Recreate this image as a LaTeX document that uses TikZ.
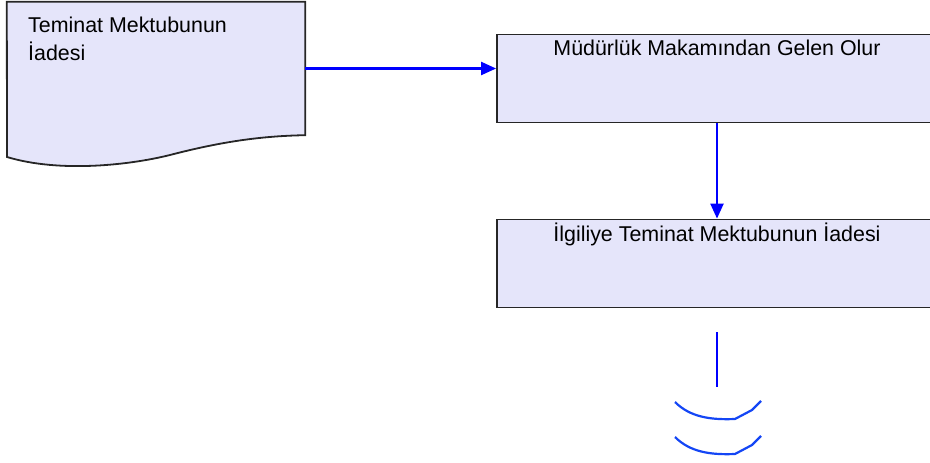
\documentclass[tikz,border=0pt]{standalone}
\usepackage{fontspec}
\setmainfont{Liberation Sans}
\usetikzlibrary{arrows.meta,positioning}
\definecolor{kutu}{RGB}{229,229,250}
\definecolor{ok}{RGB}{0,0,255}
\definecolor{yay}{RGB}{20,70,245}
\tikzset{
  basic/.style  = {draw=black!85, line width=1.8pt, fill=kutu, rectangle, inner sep=0pt},
  islem/.style  = {basic, minimum width=440pt, text height=21.5pt, text depth=66.5pt,
                   anchor=base, font=\fontsize{21.4}{28}\selectfont},
  belge/.style  = {rectangle, inner sep=0pt, minimum width=298pt, minimum height=133pt},
  yazi/.style   = {inner sep=0pt, align=left, font=\fontsize{21.4}{28}\selectfont},
  akis/.style   = {draw=ok, line width=2.2pt, -{Triangle[length=15pt,width=13pt]}}
}
\begin{document}
\begin{tikzpicture}[x=1pt,y=-1pt]
\clip (0,0) rectangle (930,463);

% belge sekli
\node[belge] (belge) at (156,68.5) {};
\fill[kutu] (belge.north west) -- (belge.north east) -- (belge.south east)
  .. controls (260,136) and (220,142) .. (170,155)
  .. controls (130,165) and (60,173) .. (7,157) -- cycle;
\draw[black!85, line width=1.8pt] (belge.north west) -- (belge.north east) -- (belge.south east)
  .. controls (260,136) and (220,142) .. (170,155)
  .. controls (130,165) and (60,173) .. (7,157) -- cycle;
\node[yazi, anchor=north west] (belgeyazi) at (28,16.5) {Teminat Mektubunun\\İadesi};

% islem kutulari
\node[islem] (m1) at (717,56) {Müdürlük Makamından Gelen Olur};
\node[islem] (m2) at (717,241) {İlgiliye Teminat Mektubunun İadesi};

% baglantilar
\draw[akis] (belge.east) -- (belge.east -| m1.west);
\draw[akis] (m1.south) -- (m2.north);

% alt sembol
\coordinate (s1) at ([yshift=-24pt]m2.south);
\coordinate (s2) at ([yshift=-79pt]m2.south);
\draw[ok, line width=2.2pt] (s1) -- (s2);
\foreach \dy in {0,35}
  \draw[yay, line width=2.2pt, line join=round]
    (675,402+\dy) .. controls (690,417+\dy) and (710,420+\dy) .. (735,419+\dy)
    -- (752,410+\dy) -- (761,401+\dy);
\end{tikzpicture}
\end{document}
